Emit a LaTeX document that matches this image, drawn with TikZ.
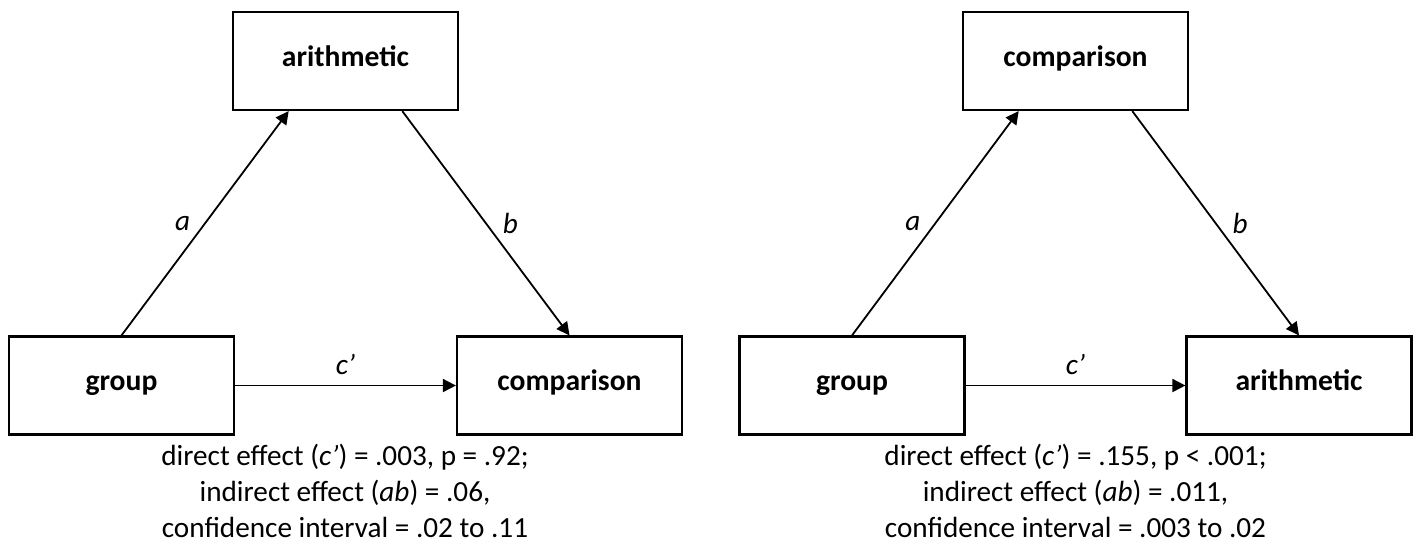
\documentclass[tikz,border=0pt]{standalone}
\usepackage{fontspec}
\setmainfont{Carlito}
\usetikzlibrary{arrows.meta,calc}
\begin{document}
\begin{tikzpicture}[x=0.5pt,y=-0.5pt,
  varbox/.style={draw, line width=1.1pt, minimum width=112.5pt, minimum height=49pt, inner sep=0pt,
    text height=0.75em, text depth=0.25em,
    font=\fontsize{14.8}{17}\selectfont\bfseries},
  arr/.style={line width=0.9pt, -{Triangle[length=6.5pt,width=6.5pt]}},
  lab/.style={font=\fontsize{14.6}{17}\selectfont\itshape, inner sep=5pt},
  stats/.style={align=center, inner sep=0pt, font=\fontsize{14.6}{18.2}\selectfont}]
\useasboundingbox (0,0) rectangle (1416,543);
% left diagram
\node[varbox] (gL) at (121.5,385.5) {group};
\node[varbox] (mL) at (345.5,61) {arithmetic};
\node[varbox] (yL) at (569.5,385.5) {comparison};
\coordinate (mLa) at ($(mL.south west)!0.25!(mL.south east)$);
\coordinate (mLb) at ($(mL.south west)!0.75!(mL.south east)$);
\draw[arr] (gL.north) -- (mLa) node[lab, midway, left, xshift=-2pt] {a};
\draw[arr] (mLb) -- (yL.north) node[lab, midway, right, xshift=3pt] {b};
\draw[arr] (gL.east) -- (yL.west) node[lab, midway, above] {c’};
\node[stats] (sL) at (345,491) {direct effect (\textit{c’}) = .003, p = .92;\\indirect effect (\textit{ab}) = .06,\\confidence interval = .02 to .11};
% right diagram
\node[varbox] (gR) at (852,385.5) {group};
\node[varbox] (mR) at (1075.5,61) {comparison};
\node[varbox] (yR) at (1299,385.5) {arithmetic};
\coordinate (mRa) at ($(mR.south west)!0.25!(mR.south east)$);
\coordinate (mRb) at ($(mR.south west)!0.75!(mR.south east)$);
\draw[arr] (gR.north) -- (mRa) node[lab, midway, left, xshift=-2pt] {a};
\draw[arr] (mRb) -- (yR.north) node[lab, midway, right, xshift=3pt] {b};
\draw[arr] (gR.east) -- (yR.west) node[lab, midway, above] {c’};
\node[stats] (sR) at (1075.5,491) {direct effect (\textit{c’}) = .155, p < .001;\\indirect effect (\textit{ab}) = .011,\\confidence interval = .003 to .02};
\end{tikzpicture}
\end{document}
